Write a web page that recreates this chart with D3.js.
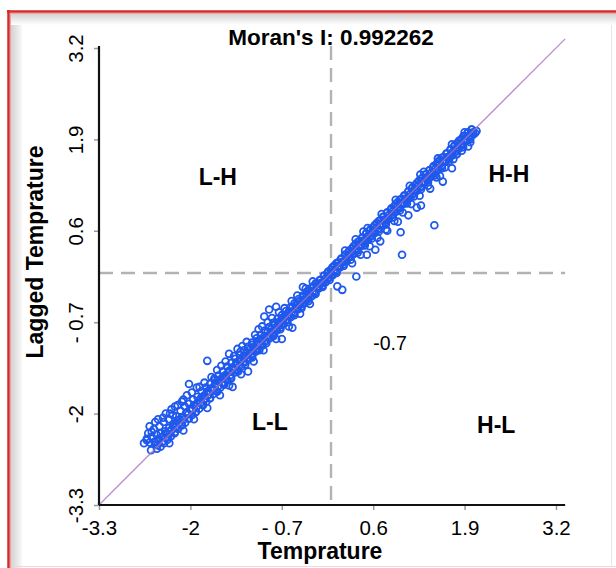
<!DOCTYPE html>
<html><head><meta charset="utf-8">
<script src="https://cdn.jsdelivr.net/npm/d3@7"></script>
<style>html,body{margin:0;padding:0;background:#fff;}svg{display:block;}</style>
</head><body>
<svg id="chart" width="616" height="568"></svg>
<script>
// ---- data ----
const titleText = "Moran's I: 0.992262";
const xLabel = "Temprature";
const yLabel = "Lagged Temprature";
const tickValues = [-3.3, -2, -0.7, 0.6, 1.9, 3.2];
const xTickLabels = ["-3.3", "-2", "- 0.7", "0.6", "1.9", "3.2"];
const yTickLabels = ["-3.3", "-2", "- 0.7", "0.6", "1.9", "3.2"];
const domainXY = [-3.3, 3.2];
const fitLine = [[-3.3, -3.3], [3.33, 3.33]];
const quadrantLabels = [
  {text: "L-H", x: -1.61, y: 1.37},
  {text: "H-H", x: 2.53, y: 1.41},
  {text: "L-L", x: -0.87, y: -2.12},
  {text: "H-L", x: 2.35, y: -2.16},
];
const extraLabel = {text: "-0.7", x: 0.84, y: -1.0};

const coreRow = [[-2.62,-2.38],[-2.58,-2.41],[-2.55,-2.33],[-2.51,-2.40],[-2.48,-2.30],[-2.45,-2.36],[-2.42,-2.28],[-2.39,-2.33],[-2.36,-2.25],[-2.33,-2.29],[-2.30,-2.20],[-2.27,-2.24],[-2.24,-2.15],[-2.21,-2.19],[-2.18,-2.10],[-2.15,-2.13],[-2.12,-2.05],[-2.09,-2.08],[-2.06,-1.99],[-2.03,-2.01],[-2.00,-1.93],[-1.97,-1.95],[-1.94,-1.88],[-1.91,-1.90],[-1.88,-1.82],[-1.85,-1.84],[-1.82,-1.76],[-1.79,-1.79],[-1.76,-1.70],[-1.73,-1.73],[-1.70,-1.64],[-1.67,-1.67],[-1.64,-1.58],[-1.61,-1.62],[-1.58,-1.53],[-1.55,-1.56],[-1.52,-1.47],[-1.49,-1.50],[-1.46,-1.41],[-1.43,-1.45],[-1.40,-1.36],[-1.37,-1.38],[-1.34,-1.30],[-1.31,-1.33],[-1.28,-1.24],[-1.25,-1.27],[-1.22,-1.18],[-1.19,-1.21],[-1.16,-1.13],[-1.13,-1.15],[-1.10,-1.07],[-1.07,-1.09],[-1.04,-1.01],[-1.01,-1.03],[-0.98,-0.95],[-0.95,-0.97],[-0.92,-0.90],[-0.89,-0.91],[-0.86,-0.84],[-0.83,-0.85],[-0.80,-0.78],[-0.77,-0.80],[-0.74,-0.72],[-0.71,-0.74],[-0.68,-0.66],[-0.65,-0.68],[-0.62,-0.61],[-0.59,-0.62],[-0.56,-0.55],[-0.53,-0.56],[-0.50,-0.49],[-0.47,-0.50],[-0.44,-0.43],[-0.41,-0.44],[-0.38,-0.38],[-0.35,-0.38],[-0.32,-0.32],[-0.29,-0.32],[-0.26,-0.26],[-0.23,-0.26],[-0.20,-0.20],[-0.17,-0.20],[-0.14,-0.14],[-0.11,-0.14],[-0.08,-0.08],[-0.05,-0.08],[-0.02,-0.02],[0.01,-0.02],[0.04,0.04],[0.07,0.04],[0.10,0.10],[0.13,0.10],[0.16,0.16],[0.19,0.16],[0.22,0.22],[0.25,0.22],[0.28,0.28],[0.31,0.27],[0.34,0.34],[0.37,0.33],[0.40,0.40],[0.43,0.39],[0.46,0.46],[0.49,0.45],[0.52,0.52],[0.55,0.51],[0.58,0.58],[0.61,0.57],[0.64,0.64],[0.67,0.63],[0.70,0.70],[0.73,0.69],[0.76,0.76],[0.79,0.75],[0.82,0.82],[0.85,0.81],[0.88,0.88],[0.91,0.87],[0.94,0.94],[0.97,0.93],[1.00,1.00],[1.03,0.99],[1.06,1.06],[1.09,1.05],[1.12,1.12],[1.15,1.11],[1.18,1.18],[1.21,1.17],[1.24,1.24],[1.27,1.23],[1.30,1.30],[1.33,1.29],[1.36,1.36],[1.39,1.35],[1.42,1.42],[1.45,1.41],[1.48,1.48],[1.51,1.47],[1.54,1.54],[1.57,1.53],[1.60,1.60],[1.63,1.59],[1.66,1.65],[1.69,1.65],[1.72,1.71],[1.75,1.71],[1.78,1.77],[1.81,1.77],[1.84,1.83],[1.87,1.83],[1.90,1.89],[1.93,1.89],[1.96,1.95],[1.99,1.95],[2.02,2.00],[2.05,1.99],[2.07,2.02]];

const midUpperRow = [[-2.50,-2.44],[-2.45,-2.38],[-2.40,-2.34],[-2.35,-2.28],[-2.30,-2.25],[-2.25,-2.18],[-2.20,-2.14],[-2.15,-2.08],[-2.10,-2.05],[-2.05,-1.98],[-2.00,-1.94],[-1.95,-1.88],[-1.90,-1.85],[-1.85,-1.78],[-1.80,-1.74],[-1.75,-1.68],[-1.70,-1.65],[-1.65,-1.58],[-1.60,-1.54],[-1.55,-1.49],[-1.50,-1.45],[-1.45,-1.39],[-1.40,-1.34],[-1.35,-1.29],[-1.30,-1.25],[-1.25,-1.19],[-1.20,-1.14],[-1.15,-1.09],[-1.10,-1.05],[-1.05,-0.99],[-1.00,-0.94],[-0.95,-0.90],[-0.90,-0.84],[-0.85,-0.80],[-0.80,-0.74],[-0.75,-0.70],[-0.70,-0.64],[-0.65,-0.60],[-0.60,-0.55],[-0.55,-0.49],[-0.50,-0.45],[-0.45,-0.40],[-0.40,-0.34],[-0.35,-0.30],[-0.30,-0.25],[-0.25,-0.19],[-0.20,-0.15],[-0.15,-0.10],[-0.10,-0.04],[-0.05,0.00],[0.00,0.05],[0.05,0.11],[0.10,0.15],[0.15,0.20],[0.20,0.26],[0.25,0.30],[0.30,0.35],[0.35,0.41],[0.40,0.45],[0.45,0.50],[0.50,0.56],[0.55,0.60],[0.60,0.65],[0.65,0.71],[0.70,0.75],[0.75,0.80],[0.80,0.86],[0.85,0.90],[0.90,0.95],[0.95,1.01],[1.00,1.05],[1.05,1.10],[1.10,1.16],[1.15,1.20],[1.20,1.25],[1.25,1.31],[1.30,1.35],[1.35,1.40],[1.40,1.46],[1.45,1.50],[1.50,1.55],[1.55,1.61],[1.60,1.65],[1.65,1.70],[1.70,1.75],[1.75,1.80],[1.80,1.85],[1.85,1.90],[1.90,1.95],[1.95,2.00],[2.00,2.04]];

const midLowerRow = [[-2.475,-2.50],[-2.425,-2.47],[-2.375,-2.42],[-2.325,-2.37],[-2.275,-2.32],[-2.225,-2.28],[-2.175,-2.22],[-2.125,-2.17],[-2.075,-2.13],[-2.025,-2.07],[-1.975,-2.02],[-1.925,-1.98],[-1.875,-1.93],[-1.825,-1.87],[-1.775,-1.83],[-1.725,-1.78],[-1.675,-1.72],[-1.625,-1.68],[-1.575,-1.63],[-1.525,-1.57],[-1.475,-1.53],[-1.425,-1.48],[-1.375,-1.42],[-1.325,-1.38],[-1.275,-1.33],[-1.225,-1.27],[-1.175,-1.23],[-1.125,-1.18],[-1.075,-1.12],[-1.025,-1.08],[-0.975,-1.03],[-0.925,-0.97],[-0.875,-0.93],[-0.825,-0.88],[-0.775,-0.82],[-0.725,-0.78],[-0.675,-0.73],[-0.625,-0.67],[-0.575,-0.63],[-0.525,-0.58],[-0.475,-0.52],[-0.425,-0.48],[-0.375,-0.43],[-0.325,-0.37],[-0.275,-0.33],[-0.225,-0.28],[-0.175,-0.22],[-0.125,-0.18],[-0.075,-0.13],[-0.025,-0.07],[0.025,-0.03],[0.075,0.02],[0.125,0.08],[0.175,0.12],[0.225,0.17],[0.275,0.23],[0.325,0.27],[0.375,0.32],[0.425,0.38],[0.475,0.42],[0.525,0.47],[0.575,0.53],[0.625,0.57],[0.675,0.62],[0.725,0.68],[0.775,0.72],[0.825,0.77],[0.875,0.83],[0.925,0.87],[0.975,0.92],[1.025,0.98],[1.075,1.02],[1.125,1.07],[1.175,1.13],[1.225,1.17],[1.275,1.22],[1.325,1.28],[1.375,1.32],[1.425,1.37],[1.475,1.43],[1.525,1.47],[1.575,1.52],[1.625,1.58],[1.675,1.62],[1.725,1.67],[1.775,1.73],[1.825,1.77],[1.875,1.82],[1.925,1.88],[1.975,1.92],[2.025,1.97]];

const upperRow = [[-2.60,-2.28],[-2.52,-2.22],[-2.44,-2.18],[-2.38,-2.12],[-2.31,-2.08],[-2.25,-2.02],[-2.20,-2.04],[-2.14,-1.96],[-2.08,-1.90],[-2.02,-1.86],[-1.96,-1.80],[-1.90,-1.76],[-1.84,-1.68],[-1.78,-1.63],[-1.72,-1.58],[-1.66,-1.50],[-1.60,-1.46],[-1.54,-1.40],[-1.48,-1.33],[-1.42,-1.28],[-1.36,-1.22],[-1.30,-1.16],[-1.24,-1.10],[-1.18,-1.05],[-1.12,-0.99],[-1.06,-0.93],[-1.00,-0.88],[-0.94,-0.82],[-0.88,-0.77],[-0.82,-0.71],[-0.76,-0.65],[-0.70,-0.60],[-0.64,-0.54],[-0.58,-0.49],[-0.52,-0.43],[-0.46,-0.37],[-0.40,-0.32],[-0.34,-0.26],[-0.28,-0.21],[-0.22,-0.15],[-0.16,-0.10],[-0.10,-0.04],[-0.04,0.02],[0.02,0.08],[0.08,0.14],[0.14,0.20],[0.20,0.26],[0.26,0.32],[0.32,0.38],[0.38,0.44],[0.44,0.50],[0.50,0.56],[0.56,0.62],[0.62,0.68],[0.68,0.74],[0.74,0.80],[0.80,0.86],[0.86,0.92],[0.92,0.98],[0.98,1.04],[1.04,1.10],[1.10,1.16],[1.16,1.22],[1.22,1.28],[1.28,1.34],[1.34,1.40],[1.40,1.46],[1.46,1.52],[1.52,1.58],[1.58,1.64],[1.64,1.70],[1.70,1.76],[1.76,1.82],[1.82,1.88],[1.88,1.94],[1.94,1.99],[2.00,2.04]];

const lowerRow = [[-2.56,-2.52],[-2.47,-2.45],[-2.40,-2.40],[-2.32,-2.34],[-2.22,-2.26],[-2.12,-2.16],[-2.02,-2.07],[-1.92,-1.97],[-1.82,-1.88],[-1.72,-1.78],[-1.62,-1.69],[-1.52,-1.59],[-1.42,-1.50],[-1.32,-1.40],[-1.22,-1.30],[-1.12,-1.20],[-1.02,-1.10],[-0.92,-1.00],[-0.82,-0.90],[-0.72,-0.80],[-0.62,-0.70],[-0.52,-0.60],[-0.42,-0.50],[-0.32,-0.40],[-0.22,-0.30],[-0.12,-0.20],[-0.02,-0.10],[0.08,0.00],[0.18,0.10],[0.28,0.19],[0.38,0.29],[0.48,0.39],[0.58,0.49],[0.68,0.59],[0.78,0.69],[0.88,0.79],[0.98,0.89],[1.08,0.99],[1.18,1.09],[1.28,1.19],[1.38,1.29],[1.48,1.39],[1.58,1.49],[1.68,1.59],[1.78,1.69],[1.88,1.79],[1.98,1.90]];

const scatterAbove = [[-2.58,-2.18],[-2.50,-2.12],[-2.46,-2.08],[-2.35,-2.00],[-2.27,-1.94],[-2.18,-1.88],[-2.10,-1.80],[-2.05,-1.74],[-1.98,-1.70],[-1.87,-1.62],[-1.80,-1.56],[-1.70,-1.48],[-1.62,-1.38],[-1.56,-1.32],[-1.50,-1.26],[-1.38,-1.18],[-1.33,-1.08],[-1.26,-1.04],[-1.20,-0.98],[-1.08,-0.88],[-1.03,-0.80],[-0.98,-0.76],[-0.90,-0.70],[-0.84,-0.64],[-0.74,-0.56],[-0.66,-0.50],[-0.56,-0.40],[-0.48,-0.32],[-0.36,-0.22],[-0.26,-0.12],[0.20,0.32],[0.35,0.48],[0.52,0.64],[0.72,0.84],[0.92,1.04],[1.12,1.24],[1.32,1.44],[1.52,1.63],[1.72,1.83],[1.90,2.00]];

const scatterBelow = [[-2.30,-2.42],[-2.10,-2.24],[-1.95,-2.08],[-1.76,-1.92],[-1.58,-1.74],[-1.45,-1.60],[-1.28,-1.44],[-1.10,-1.26],[-0.96,-1.10],[-0.78,-0.94],[-0.60,-0.76],[-0.44,-0.58],[-0.30,-0.44],[0.30,0.14],[0.42,0.26],[0.55,0.38],[0.66,0.50],[0.78,0.62],[0.90,0.74],[1.02,0.86],[1.14,0.98],[1.26,1.10],[1.38,1.24],[1.50,1.36],[1.62,1.50],[1.74,1.62],[1.86,1.74],[1.98,1.86]];

const outliers = [[-2.62,-2.36],[-2.66,-2.42],[-2.55,-2.26],[-2.39,-2.06],[-2.29,-2.00],[-2.22,-1.90],[-2.12,-1.83],[-2.02,-1.58],[-1.91,-1.63],[-1.76,-1.25],[-1.65,-1.52],[-1.45,-1.15],[-1.29,-1.12],[-1.12,-1.02],[-1.40,-1.62],[-1.18,-1.40],[-0.95,-0.62],[-0.88,-0.52],[-0.78,-0.48],[-0.70,-0.94],[-0.55,-0.78],[-0.40,-0.20],[0.36,-0.05],[0.16,-0.24],[0.09,-0.19],[0.46,0.59],[0.63,0.33],[0.51,0.26],[0.70,0.45],[0.95,0.73],[0.99,0.58],[1.01,0.26],[1.22,0.93],[1.28,0.96],[1.47,0.68],[1.41,1.20],[1.59,1.30],[1.72,1.49],[1.79,1.69],[1.27,1.40],[0.80,0.60],[1.10,0.82],[1.55,1.38],[1.95,1.80]];

// ---- chart ----
const svg = d3.select("#chart");
const W = 616, H = 568;
const font = "'Liberation Sans', Arial, sans-serif";

// frame / background
const defs = svg.append("defs");
const gl = defs.append("linearGradient").attr("id","gl").attr("x1","0").attr("x2","1").attr("y1","0").attr("y2","0");
gl.append("stop").attr("offset","0").attr("stop-color","#cfcfcf");
gl.append("stop").attr("offset","1").attr("stop-color","#ffffff");
const gt = defs.append("linearGradient").attr("id","gt").attr("x1","0").attr("x2","0").attr("y1","0").attr("y2","1");
gt.append("stop").attr("offset","0").attr("stop-color","#cfcfcf");
gt.append("stop").attr("offset","1").attr("stop-color","#ffffff");
svg.append("rect").attr("width",W).attr("height",H).attr("fill","#fff");
svg.append("rect").attr("x",10).attr("y",13).attr("width",14).attr("height",H-13).attr("fill","url(#gl)");
svg.append("rect").attr("x",10).attr("y",13).attr("width",W-10).attr("height",12).attr("fill","url(#gt)");
svg.append("rect").attr("x",22).attr("y",25).attr("width",W-22).attr("height",H-25).attr("fill","#fff");
svg.append("line").attr("x1",8.5).attr("x2",8.5).attr("y1",10).attr("y2",H).attr("stroke","#d42a2a").attr("stroke-width",2.5);
svg.append("line").attr("x1",7).attr("x2",W).attr("y1",11.5).attr("y2",11.5).attr("stroke","#d42a2a").attr("stroke-width",2.5);
svg.append("line").attr("x1",10.5).attr("x2",10.5).attr("y1",13).attr("y2",H).attr("stroke","#f2a0a0").attr("stroke-width",1);
svg.append("line").attr("x1",10).attr("x2",W).attr("y1",13.5).attr("y2",13.5).attr("stroke","#f2a0a0").attr("stroke-width",1);
svg.append("line").attr("x1",12).attr("x2",W).attr("y1",566.5).attr("y2",566.5).attr("stroke","#f5d5dc").attr("stroke-width",1);
svg.append("line").attr("x1",611.5).attr("x2",611.5).attr("y1",25).attr("y2",566).attr("stroke","#e6e6e6").attr("stroke-width",1);

const x = d3.scaleLinear().domain(domainXY).range([99, 556]);
const y = d3.scaleLinear().domain(domainXY).range([505, 48]);

// dashed quadrant lines
const dashC = "#b3b3b3";
svg.append("line").attr("x1",x(0)).attr("x2",x(0)).attr("y1",y(3.23)).attr("y2",y(-3.3))
  .attr("stroke",dashC).attr("stroke-width",2.4).attr("stroke-dasharray","14,8");
svg.append("line").attr("x1",x(-3.3)).attr("x2",x(fitLine[1][0])).attr("y1",y(0)).attr("y2",y(0))
  .attr("stroke",dashC).attr("stroke-width",2.4).attr("stroke-dasharray","14,8");

// points
const allPts = outliers.concat(scatterAbove, scatterBelow, lowerRow, upperRow, midLowerRow, midUpperRow, coreRow);
svg.append("g").selectAll("circle").data(allPts).join("circle")
  .attr("cx", d => x(d[0])).attr("cy", d => y(d[1])).attr("r", 3.4)
  .attr("fill","none").attr("stroke","#1f58ec").attr("stroke-width",1.8);

// fit line
svg.append("line").attr("x1",x(fitLine[0][0])).attr("y1",y(fitLine[0][1]))
  .attr("x2",x(fitLine[1][0])).attr("y2",y(fitLine[1][1]))
  .attr("stroke","#a874c4").attr("stroke-width",1.3).attr("opacity",0.8);

// axes
const xAxis = d3.axisBottom(x).tickValues(tickValues).tickFormat((d,i)=>xTickLabels[i]).tickSize(5).tickSizeOuter(0);
const gx = svg.append("g").attr("transform",`translate(0,${y(-3.3)})`).call(xAxis);
gx.select(".domain").remove();
gx.selectAll(".tick line").attr("stroke","#999").attr("stroke-width",1.5);
gx.selectAll(".tick text").attr("font-family",font).attr("font-size",20.5).attr("fill","#000")
  .attr("y",23).attr("dy","0.35em");

const yAxis = d3.axisLeft(y).tickValues(tickValues).tickFormat((d,i)=>yTickLabels[i]).tickSize(5).tickSizeOuter(0);
const gy = svg.append("g").attr("transform",`translate(${x(-3.3)},0)`).call(yAxis);
gy.select(".domain").remove();
gy.selectAll(".tick line").attr("stroke","#999").attr("stroke-width",1.5);
gy.selectAll(".tick text").attr("font-family",font).attr("font-size",20.5).attr("fill","#000")
  .attr("x",0).attr("y",0).attr("dy","0.35em").attr("text-anchor","middle")
  .attr("transform","translate(-23,0) rotate(-90)");

svg.append("line").attr("x1",x(-3.3)).attr("x2",x(fitLine[1][0])).attr("y1",y(-3.3)).attr("y2",y(-3.3))
  .attr("stroke","#111").attr("stroke-width",2.2);
svg.append("line").attr("x1",x(-3.3)).attr("x2",x(-3.3)).attr("y1",y(-3.3)).attr("y2",y(3.23))
  .attr("stroke","#111").attr("stroke-width",2.2);

// texts
const boldSize = 23;
svg.append("text").attr("x",x(0)).attr("y",45).attr("text-anchor","middle")
  .attr("font-family",font).attr("font-weight","bold").attr("font-size",22.5).attr("fill","#000").text(titleText);
svg.append("text").attr("x",320).attr("y",559).attr("text-anchor","middle")
  .attr("font-family",font).attr("font-weight","bold").attr("font-size",boldSize).attr("fill","#000").text(xLabel);
svg.append("text").attr("transform",`translate(43,252) rotate(-90)`).attr("text-anchor","middle")
  .attr("font-family",font).attr("font-weight","bold").attr("font-size",boldSize).attr("fill","#000").text(yLabel);

svg.append("g").selectAll("text").data(quadrantLabels).join("text")
  .attr("x",d=>x(d.x)).attr("y",d=>y(d.y)).attr("dy","0.35em").attr("text-anchor","middle")
  .attr("font-family",font).attr("font-weight","bold").attr("font-size",boldSize).attr("fill","#000").text(d=>d.text);
svg.append("text").attr("x",x(extraLabel.x)).attr("y",y(extraLabel.y)).attr("dy","0.35em").attr("text-anchor","middle")
  .attr("font-family",font).attr("font-size",19.5).attr("fill","#000").text(extraLabel.text);
</script>
</body></html>
